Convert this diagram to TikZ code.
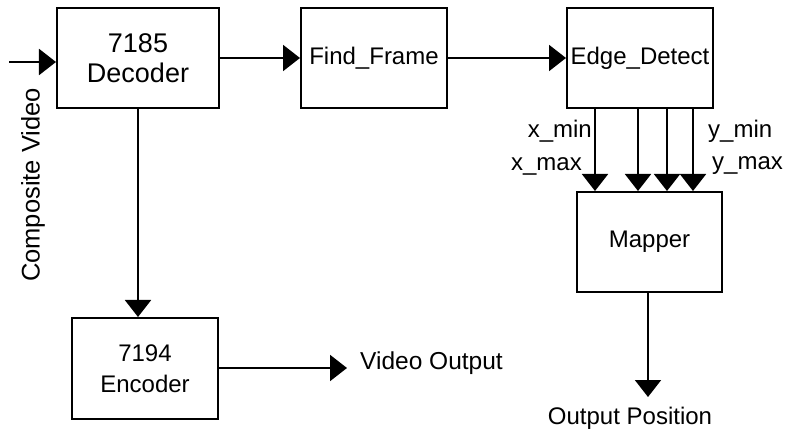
\documentclass[tikz,border=0pt]{standalone}
\usepackage{fontspec}
\setmainfont{Liberation Sans}
\usetikzlibrary{arrows.meta}
\tikzset{
  blk/.style={draw, line width=2bp, rectangle, inner sep=0pt, align=center,
    font=\fontsize{24bp}{31bp}\selectfont},
  lbl/.style={inner sep=0pt, font=\fontsize{24bp}{28bp}\selectfont},
  arr/.style={line width=2bp, -{Triangle[length=17bp,width=26bp]}}
}
\begin{document}
\begin{tikzpicture}[x=1bp,y=-1bp]
\useasboundingbox (0,0) rectangle (790,443);
\node[blk, minimum width=162bp, minimum height=100bp,
  font=\fontsize{27bp}{30bp}\selectfont] (dec) at (138,58) {7185\\Decoder};
\node[blk, minimum width=146bp, minimum height=100bp] (ff) at (374,58) {Find\_Frame};
\node[blk, minimum width=146bp, minimum height=100bp] (ed) at (640,58) {Edge\_Detect};
\node[blk, minimum width=145bp, minimum height=100bp] (map) at (649.5,242) {Mapper};
\node[blk, minimum width=146bp, minimum height=101bp] (enc) at (145,368.5) {7194\\Encoder};

\coordinate (in) at (9,62);
\draw[arr] (in) -- (dec.west |- in);
\node[lbl, rotate=90, font=\fontsize{25.5bp}{28bp}\selectfont] (cv) at (33,185) {Composite Video};

\draw[arr] (dec.east) -- (ff.west);
\draw[arr] (ff.east) -- (ed.west);
\draw[arr] (dec.south -| 138,0) -- (enc.north -| 138,0);

\coordinate (c1) at (595,0);
\coordinate (c2) at (638,0);
\coordinate (c3) at (667,0);
\coordinate (c4) at (693,0);
\draw[arr] (ed.south -| c1) -- (map.north -| c1);
\draw[arr] (ed.south -| c2) -- (map.north -| c2);
\draw[arr] (ed.south -| c3) -- (map.north -| c3);
\draw[arr] (ed.south -| c4) -- (map.north -| c4);
\node[lbl, anchor=east] (xmin) at (592,131) {x\_min};
\node[lbl, anchor=east] (xmax) at (582,166) {x\_max};
\node[lbl, anchor=west] (ymin) at (708,131) {y\_min};
\node[lbl, anchor=west] (ymax) at (712,166) {y\_max};

\coordinate (vo) at (347,368);
\draw[arr] (enc.east |- vo) -- (vo);
\node[lbl, anchor=west, font=\fontsize{24.5bp}{28bp}\selectfont] (vot) at (360,363) {Video Output};

\coordinate (op) at (648,397);
\draw[arr] (map.south -| op) -- (op);
\node[lbl] (opt) at (630,418) {Output Position};
\end{tikzpicture}
\end{document}
